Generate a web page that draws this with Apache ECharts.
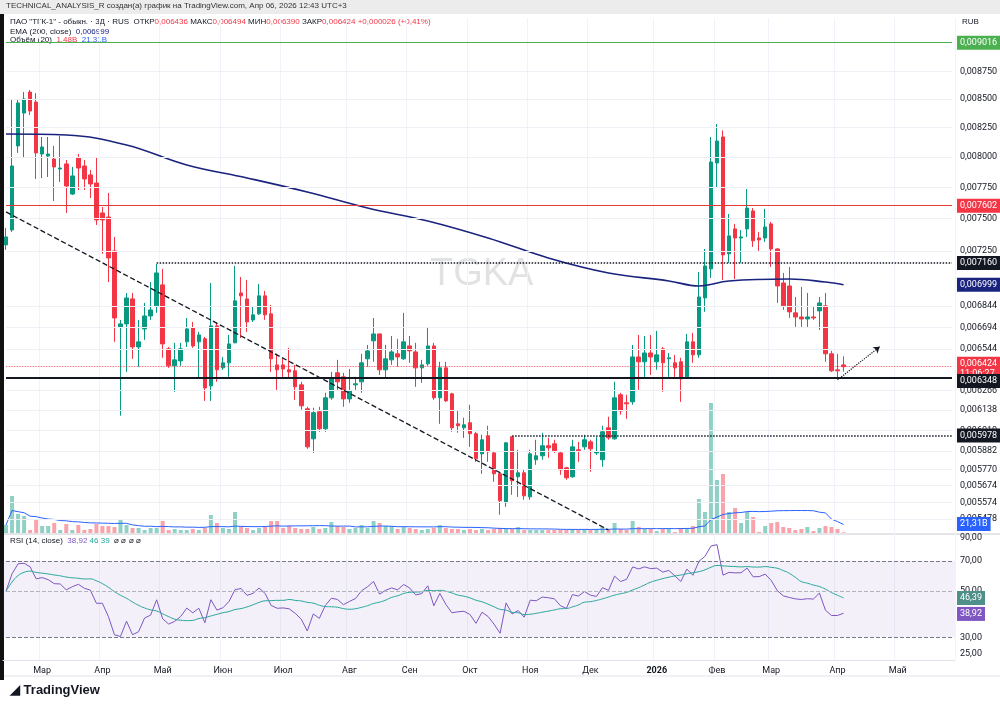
<!DOCTYPE html>
<html>
<head>
<meta charset="utf-8">
<script src="https://cdn.jsdelivr.net/npm/echarts@6/dist/echarts.min.js"></script>
<style>
  html, body { margin: 0; padding: 0; background: #fff; }
  #chart { width: 1000px; height: 707px; }
</style>
</head>
<body>
<div id="chart"></div>
<script>
// 3-day candles, prices in 1e-6 RUB: [open, close, low, high]
const ohlc = [
  [7297,7358,7259,7428],[7412,7925,7397,8491],[8093,8465,8034,8491],[8376,8500,8000,8562],[8562,8394,8359,8581],
  [8473,8034,7818,8553],[8025,8084,7826,8169],[8008,8025,7834,8169],[7983,7917,7640,8093],[7900,7908,7794,8178],
  [7942,7761,7545,7975],[7696,7843,7688,7917],[7992,7908,7728,8025],[7925,7818,7728,7975],[7851,7777,7664,7892],
  [7785,7490,7451,7992],[7545,7490,7229,7592],[7513,7198,7019,7704],[7251,6760,6593,7358],[6697,6718,6103,6746],
  [6718,6903,6389,6939],[6896,6558,6477,6939],[6558,6593,6423,6746],[6683,6774,6607,6867],[6774,6817,6746,7019],
  [6846,7086,6796,7153],[6998,6579,6484,7116],[6545,6430,6416,6558],[6430,6470,6257,6586],[6463,6545,6430,6586],
  [6593,6683,6558,6760],[6690,6565,6552,6732],[6593,6641,6349,6662],[6614,6283,6198,6627],[6296,6704,6198,7012],
  [6704,6403,6323,6725],[6416,6450,6403,6490],[6450,6579,6356,6641],[6586,6882,6586,7138],[6939,6918,6620,7056],
  [6896,6732,6662,7034],[6746,6782,6732,6839],[6789,6918,6782,7005],[6918,6782,6746,6954],[6789,6477,6389,6853],
  [6436,6403,6270,6511],[6436,6409,6356,6477],[6403,6389,6349,6552],[6396,6290,6205,6436],[6303,6166,6141,6323],
  [6147,5907,5895,6160],[5957,6122,5870,6154],[6128,6020,6001,6160],[6020,6218,6001,6251],[6218,6349,6205,6389],
  [6383,6323,6270,6470],[6356,6211,6160,6383],[6211,6264,6186,6409],[6303,6310,6270,6356],[6323,6450,6251,6511],
  [6477,6531,6423,6572],[6600,6648,6457,6760],[6648,6403,6369,6648],[6403,6477,6349,6572],[6470,6524,6436,6634],
  [6511,6490,6423,6614],[6477,6593,6470,6796],[6565,6531,6450,6634],[6524,6416,6290,6586],[6416,6436,6316,6470],
  [6443,6565,6430,6697],[6565,6218,6205,6586],[6218,6416,6051,6457],[6416,6198,6192,6457],[6244,6026,6001,6251],
  [6051,6039,5995,6134],[6026,6045,5963,6090],[6058,5989,5907,6173],[5989,5834,5815,6001],[5864,5951,5743,5982],
  [5976,5877,5815,6039],[5870,5743,5695,5877],[5743,5583,5502,5755],[5572,5932,5548,5938],[5970,5701,5618,5970],
  [5725,5749,5606,5889],[5749,5612,5589,5767],[5606,5864,5589,5889],[5828,5852,5797,5951],[5852,5914,5828,5995],
  [5914,5901,5840,5963],[5926,5883,5870,5951],[5870,5767,5737,5877],[5779,5719,5707,5785],[5725,5907,5719,5951],
  [5889,5883,5815,5938],[5907,5951,5889,5982],[5938,5895,5755,5951],[5870,5877,5858,5970],[5828,6001,5785,6039],
  [6026,5963,5951,6096],[5957,6218,5951,6323],[6238,6134,6109,6251],[6186,6179,6083,6238],[6192,6490,6173,6572],
  [6490,6457,6270,6641],[6457,6517,6349,6634],[6517,6490,6369,6641],[6457,6504,6403,6669],[6545,6450,6257,6558],
  [6477,6484,6356,6517],[6450,6416,6356,6504],[6457,6343,6192,6484],[6356,6593,6349,6648],[6593,6504,6450,6655],
  [6504,6910,6484,7093],[6903,7138,6803,7266],[7116,7958,7049,8169],[7950,8135,7753,8281],[8169,7221,7034,8225],
  [7229,7366,7161,7537],[7420,7350,7041,7459],[7350,7358,7161,7412],[7420,7584,7358,7736],[7561,7328,7282,7584],
  [7350,7335,7244,7397],[7350,7435,7320,7577],[7459,7266,7131,7475],[7266,6990,6867,7274],[7012,6846,6817,7086],
  [6990,6803,6760,7131],[6796,6767,6697,6910],[6767,6753,6697,6983],[6753,6767,6697,6939],[6767,6760,6746,6839],
  [6810,6867,6676,6910],[6846,6511,6457,6939],[6511,6396,6389,6531],[6403,6396,6349,6511],[6436,6424,6390,6494]
];
// volume, billions
const volumes = [
  19.2,88.8,45.6,40.8,7.2,33.6,16.8,16.8,24,7.2,21.6,7.2,19.2,7.2,9.6,21.6,16.8,16.8,14.4,31.2,
  19.2,12,12,7.2,12,12,28.8,7.2,9.6,7.2,7.2,9.6,7.2,12,43.2,24,12,9.6,50.4,14.4,
  12,7.2,12,14.4,28.8,28.8,12,16.8,12,9.6,9.6,14.4,9.6,12,26.4,16.8,14.4,9.6,12,19.2,
  12,28.8,24,16.8,16.8,9.6,14.4,12,9.6,7.2,9.6,12,19.2,12,9.6,9.6,7.2,9.6,7.2,9.6,
  7.2,9.6,12,9.6,9.6,14.4,7.2,7.2,7.2,7.2,7.2,7.2,7.2,7.2,9.6,7.2,9.6,7.2,9.6,14.4,
  7.2,24,9.6,7.2,28.8,14.4,9.6,9.6,4.8,9.6,9.6,2.4,12,12,16.8,81.6,50.4,312,127.2,141.6,
  50.4,60,24,50.4,38.4,2.4,16.8,24,26.4,14.4,12,7.2,9.6,14.4,4.8,12,16.8,14.4,9.6,1.48
];
// EMA(200) at selected candles (index -> price 1e-6)
const emaIdx = [0, 10, 20, 30, 40, 50, 60, 70, 80, 90, 100, 110, 115, 120, 130, 136, 139];
const emaVal = [8195, 8186, 8101, 7933, 7826, 7712, 7584, 7482, 7350, 7198, 7086, 7027, 6990, 7027, 7041, 7019, 6999];

const priceTicks = [0.008750,0.008500,0.008250,0.008000,0.007750,0.007500,0.007250,0.006844,0.006694,0.006544,0.006266,0.006138,0.006010,0.005882,0.005770,0.005674,0.005574,0.005478];
const rsiTicks = [90, 70, 50, 30, 25];
const monthNames = ['Янв','Фев','Мар','Апр','Май','Июн','Июл','Авг','Сен','Окт','Ноя','Дек'];
const rsiLast = 38.92, rsiMaLast = 46.39;

const UP = '#089981', DOWN = '#f23645';
const nCats = 158;
const start = Date.UTC(2025, 1, 13);
const dates = Array.from({length: nCats}, (_, i) => new Date(start + i * 3 * 864e5));
const cats = dates.map(d => d.toISOString().slice(0, 10));
const monthStart = i => i > 0 && dates[i].getUTCMonth() !== dates[i - 1].getUTCMonth();
const fmt = (v, d) => v.toFixed(d).replace('.', ',');
const LAST = nCats - 1;

const candleData = ohlc.map(r => r.map(v => v * 1e-6));
const emaData = cats.map(() => null);
emaIdx.forEach((k, j) => { emaData[k] = emaVal[j] * 1e-6; });

const volData = volumes.map((v, i) => ({
  value: v,
  itemStyle: { color: ohlc[i][1] >= ohlc[i][0] ? 'rgba(8,153,129,0.45)' : 'rgba(242,54,69,0.45)' }
}));
const volMa = volumes.map((_, i) => {
  const s = volumes.slice(Math.max(0, i - 19), i + 1);
  return s.reduce((a, b) => a + b, 0) / s.length;
});

// RSI(14), Wilder smoothing, neutral seed
const closes = ohlc.map(r => r[1]);
const ch = closes.slice(1).map((c, i) => c - closes[i]);
const seed = ch.slice(0, 14).reduce((a, b) => a + Math.abs(b), 0) / 14 / 2;
let ag = seed, al = seed;
const rsi = [50];
ch.forEach(d => {
  ag = (ag * 13 + Math.max(d, 0)) / 14;
  al = (al * 13 + Math.max(-d, 0)) / 14;
  rsi.push(100 - 100 / (1 + ag / al));
});
const rsiMa = rsi.map((_, i) => {
  const s = rsi.slice(Math.max(0, i - 13), i + 1);
  return s.reduce((a, b) => a + b, 0) / s.length;
});

// horizontal line as a two-point segment (works on every series type)
const seg = (from, to, v, lineStyle, label) => [
  { coord: [cats[from], v], lineStyle, label: label || { show: false } },
  { coord: [cats[to], v] }
];
const tickLine = v => seg(0, LAST, v, { color: '#eef0f5', width: 1, type: 'solid' },
  { show: true, position: 'end', formatter: fmt(v, 6), color: '#131722', fontSize: 9, distance: 8 });
const badgeLabel = (bg, text, dy) => ({ show: true, position: 'end', formatter: text, color: '#fff', backgroundColor: bg,
  fontSize: 9, padding: [2, 3], distance: 5, lineHeight: 10, offset: [0, dy || 0] });
const badge = (v, bg, text, dy) => seg(0, LAST, v, { color: 'transparent', width: 0 }, badgeLabel(bg, text || fmt(v, 6), dy));

const splitX = { show: true, interval: (i) => monthStart(i), lineStyle: { color: '#f0f3fa' } };

const chart = echarts.init(document.getElementById('chart'));
chart.setOption({
  animation: false,
  backgroundColor: '#fff',
  textStyle: { fontFamily: 'Roboto, "Noto Sans", sans-serif' },
  grid: [
    { left: 3, right: 45, top: 18, height: 515 },
    { left: 3, right: 45, top: 400, height: 133 },
    { left: 3, right: 45, top: 533, height: 127 }
  ],
  xAxis: [
    { type: 'category', data: cats, gridIndex: 0, axisLine: { show: false }, axisTick: { show: false }, axisLabel: { show: false }, splitLine: splitX },
    { type: 'category', data: cats, gridIndex: 1, show: false },
    { type: 'category', data: cats, gridIndex: 2, axisLine: { lineStyle: { color: '#e0e3eb' } }, axisTick: { show: false },
      splitLine: splitX,
      axisLabel: { interval: (i) => monthStart(i), margin: 6, fontSize: 9, color: '#131722',
        formatter: (v, i) => { const d = dates[i]; return d.getUTCMonth() === 0 ? '{b|' + d.getUTCFullYear() + '}' : monthNames[d.getUTCMonth()]; },
        rich: { b: { fontWeight: 'bold', fontSize: 9, color: '#131722' } } } }
  ],
  yAxis: [
    { type: 'log', gridIndex: 0, min: 0.005398, max: 0.009252, show: false },
    { type: 'value', gridIndex: 1, min: 0, max: 319.2, show: false },
    { type: 'log', gridIndex: 2, min: 23.4, max: 95.1, show: false }
  ],
  graphic: [
    { type: 'rect', shape: { x: 0, y: 0, width: 1000, height: 14 }, style: { fill: '#ececec' }, silent: true },
    { type: 'text', left: 6, top: 2, style: { text: 'TECHNICAL_ANALYSIS_R создан(а) график на TradingView.com, Апр 06, 2026 12:43 UTC+3', fontSize: 8, fill: '#333' } },
    { type: 'rect', shape: { x: 0, y: 14, width: 4, height: 666 }, style: { fill: '#111' }, silent: true },
    { type: 'text', left: 962, top: 18, style: { text: 'RUB', fontSize: 8, fill: '#131722' } },
    { type: 'text', left: 10, top: 18, style: { rich: { n: { fontSize: 8, fill: '#131722' }, r: { fontSize: 8, fill: '#f23645' } },
      text: '{n|ПАО "ТГК-1" - обыкн. · 3Д · RUS  ОТКР}{r|0,006436}{n| МАКС}{r|0,006494}{n| МИН}{r|0,006390}{n| ЗАКР}{r|0,006424 +0,000026 (+0,41%)}' } },
    { type: 'text', left: 10, top: 28, style: { rich: { n: { fontSize: 8, fill: '#131722' }, b: { fontSize: 8, fill: '#1a237e' } },
      text: '{n|EMA (200, close)  }{b|0,006999}' } },
    { type: 'text', left: 10, top: 36, style: { rich: { n: { fontSize: 8, fill: '#131722' }, r: { fontSize: 8, fill: '#f23645' }, b: { fontSize: 8, fill: '#2962ff' } },
      text: '{n|Объём (20)  }{r|1,48B}{n|  }{b|21,31B}' } },
    { type: 'text', left: 430, top: 256, style: { text: 'TGKA', fontSize: 38, fill: 'rgba(120,123,134,0.22)' } },
    { type: 'line', shape: { x1: 4, y1: 534, x2: 1000, y2: 534 }, style: { stroke: '#c8cbd3', lineWidth: 1 } },
    { type: 'text', left: 10, top: 537, style: { rich: { n: { fontSize: 8, fill: '#131722' }, p: { fontSize: 8, fill: '#7e57c2' }, t: { fontSize: 8, fill: '#26a69a' } },
      text: '{n|RSI (14, close)  }{p|38,92}{n| }{t|46,39}{n|  ⌀ ⌀ ⌀ ⌀}' } },
    { type: 'line', shape: { x1: 4, y1: 676, x2: 1000, y2: 676 }, style: { stroke: '#e0e3eb', lineWidth: 1 } },
    { type: 'text', left: 10, top: 684, style: { text: '◢ TradingView', fontSize: 13, fontWeight: 'bold', fill: '#131722' } }
  ],
  series: [
    {
      type: 'candlestick', xAxisIndex: 0, yAxisIndex: 0, data: candleData, barWidth: 4, z: 3,
      itemStyle: { color: UP, color0: DOWN, borderColor: UP, borderColor0: DOWN },
      markLine: {
        symbol: 'none', silent: true,
        data: [
          ...priceTicks.map(tickLine),
          seg(0, LAST, 0.009016, { color: '#4caf50', type: 'solid', width: 1.2 }),
          seg(0, LAST, 0.007602, { color: '#e53935', type: 'solid', width: 1.2 }),
          seg(0, LAST, 0.006348, { color: '#131722', type: 'solid', width: 2 }),
          seg(0, LAST, 0.006424, { color: '#f23645', type: 'dotted', width: 0.8 }),
          seg(25, LAST, 0.007160, { color: '#131722', type: 'dotted', width: 1.5 }),
          seg(84, LAST, 0.005978, { color: '#131722', type: 'dotted', width: 1.5 }),
          [{ coord: [cats[0], 0.007553], lineStyle: { color: '#131722', type: 'dashed', width: 1.3 }, label: { show: false } },
           { coord: [cats[100], 0.005415] }],
          [{ coord: [cats[138], 0.006336], symbol: 'none', lineStyle: { color: '#131722', type: 'dotted', width: 1.2, curveness: 0.3 }, label: { show: false } },
           { coord: [cats[145], 0.006559], symbol: 'arrow', symbolSize: 6 }],
          badge(0.009016, '#4caf50'),
          badge(0.007602, '#f23645'),
          badge(0.007160, '#131722'),
          badge(0.006999, '#1a237e'),
          badge(0.006424, '#f23645', '0,006424\n11:06:27', 2),
          badge(0.006348, '#131722', null, 3)
          , badge(0.005978, '#131722')
        ]
      }
    },
    { type: 'line', xAxisIndex: 0, yAxisIndex: 0, data: emaData, connectNulls: true, smooth: 0.4, showSymbol: false,
      lineStyle: { color: '#1a237e', width: 1.6 }, z: 4 },
    { type: 'bar', xAxisIndex: 1, yAxisIndex: 1, data: volData, barWidth: 4, z: 1,
      markLine: { symbol: 'none', silent: true, data: [
        seg(0, LAST, 21.31, { color: 'transparent', width: 0 }, badgeLabel('#2962ff', '21,31B'))
      ] } },
    { type: 'line', xAxisIndex: 1, yAxisIndex: 1, data: volMa, showSymbol: false, lineStyle: { color: '#2962ff', width: 1 }, z: 2 },
    { type: 'line', xAxisIndex: 2, yAxisIndex: 2, data: rsi, showSymbol: false, lineStyle: { color: '#7e57c2', width: 1 },
      markArea: { silent: true, itemStyle: { color: 'rgba(126,87,194,0.09)' }, data: [[{ yAxis: 70 }, { yAxis: 30 }]] },
      markLine: { symbol: 'none', silent: true, data: [
        seg(0, LAST, 70, { color: '#787b86', type: 'dashed', width: 1 }),
        seg(0, LAST, 50, { color: '#b2b5be', type: 'dashed', width: 1 }),
        seg(0, LAST, 30, { color: '#787b86', type: 'dashed', width: 1 }),
        ...rsiTicks.map(v => seg(0, LAST, v, { color: 'transparent', width: 0 },
          { show: true, position: 'end', formatter: fmt(v, 2), color: '#131722', fontSize: 9, distance: 8 })),
        seg(0, LAST, rsiMaLast, { color: 'transparent', width: 0 }, badgeLabel('#4f8f89', fmt(rsiMaLast, 2))),
        seg(0, LAST, rsiLast, { color: 'transparent', width: 0 }, badgeLabel('#7e57c2', fmt(rsiLast, 2)))
      ] } },
    { type: 'line', xAxisIndex: 2, yAxisIndex: 2, data: rsiMa, showSymbol: false, smooth: true, lineStyle: { color: '#26a69a', width: 1 } }
  ]
});
</script>
</body>
</html>
